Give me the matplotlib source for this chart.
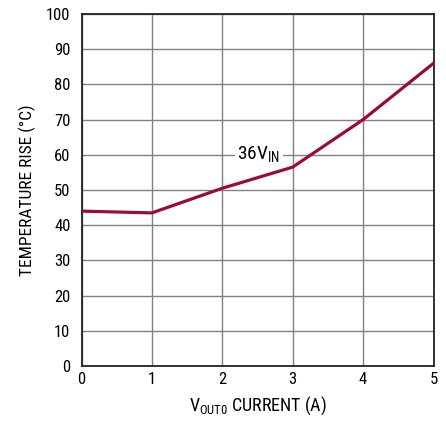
import matplotlib
matplotlib.use("Agg")
import matplotlib.pyplot as plt

current = [0, 1, 2, 3, 4, 5]
temp_rise = [44, 43.5, 50.5, 56.5, 70, 86]
x_ticks = [0, 1, 2, 3, 4, 5]
y_ticks = [0, 10, 20, 30, 40, 50, 60, 70, 80, 90, 100]

plt.rcParams['font.family'] = ['Roboto Condensed', 'DejaVu Sans']
plt.rcParams['mathtext.fontset'] = 'custom'
plt.rcParams['mathtext.rm'] = 'Roboto Condensed'

fig = plt.figure(figsize=(4.46, 4.23), dpi=100)
ax = fig.add_axes([81.5/446, 1-366/423, (433.5-81.5)/446, (366-14)/423])
ax.plot(current, temp_rise, color='#9b0a3a', lw=2.3, zorder=3)
ax.set_xlim(0, 5)
ax.set_ylim(0, 100)
ax.set_xticks(x_ticks)
ax.set_yticks(y_ticks)
ax.grid(True, color='#808080', lw=1.0)
ax.tick_params(length=0, labelsize=12)
ax.tick_params(axis='x', pad=4)
ax.tick_params(axis='y', pad=8)
for s in ax.spines.values():
    s.set_linewidth(1.3)
    s.set_color('#222222')
ax.set_xlabel(r'V$_{\mathregular{OUT0}}$ CURRENT (A)', fontsize=13, labelpad=6)
ax.set_ylabel('TEMPERATURE RISE (°C)', fontsize=12.5, labelpad=7)
ax.text(2.52, 60, r'36V$_{\mathregular{IN}}$', fontsize=14, ha='center', va='center',
        bbox=dict(facecolor='white', edgecolor='none', pad=1.5), zorder=4)
fig.savefig('out.png', dpi=100)
